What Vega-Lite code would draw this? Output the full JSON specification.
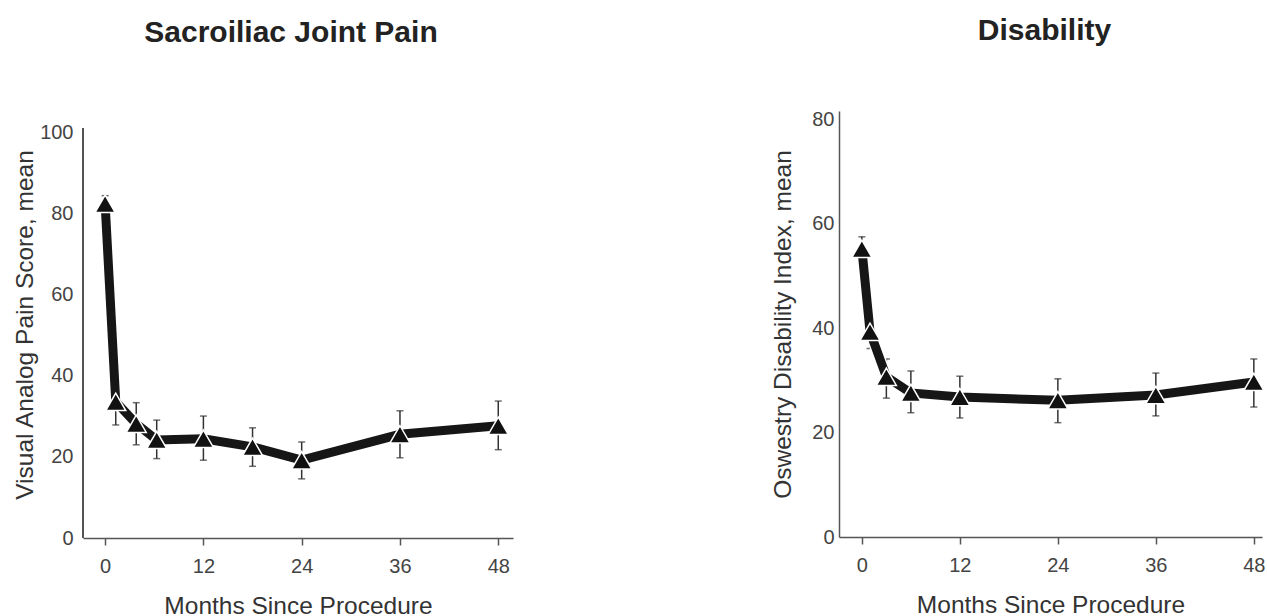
{
  "$schema": "https://vega.github.io/schema/vega-lite/v6.json",
  "padding": {"left": 12, "top": 16, "right": 0, "bottom": 0},
  "background": "white",
  "datasets": {
    "pain": [
      {"month": 0, "mean": 82.5, "lo": 80.5, "hi": 84.5},
      {"month": 1.3, "mean": 33.6, "lo": 27.9, "hi": 38.5},
      {"month": 3.8, "mean": 28.2, "lo": 23.0, "hi": 33.4},
      {"month": 6.3, "mean": 24.2, "lo": 19.6, "hi": 29.1},
      {"month": 12, "mean": 24.5, "lo": 19.2, "hi": 30.1},
      {"month": 18, "mean": 22.5, "lo": 17.7, "hi": 27.2},
      {"month": 24, "mean": 19.2, "lo": 14.6, "hi": 23.7},
      {"month": 36, "mean": 25.6, "lo": 19.8, "hi": 31.4},
      {"month": 48, "mean": 27.7, "lo": 21.8, "hi": 33.8}
    ],
    "odi": [
      {"month": 0, "mean": 55.2, "lo": 53.0, "hi": 57.5},
      {"month": 1, "mean": 39.3, "lo": 36.1, "hi": 42.5},
      {"month": 3, "mean": 30.7, "lo": 26.6, "hi": 34.1},
      {"month": 6, "mean": 27.6, "lo": 23.8, "hi": 31.8},
      {"month": 12, "mean": 26.8, "lo": 22.8, "hi": 30.8},
      {"month": 24, "mean": 26.2, "lo": 21.9, "hi": 30.3},
      {"month": 36, "mean": 27.2, "lo": 23.2, "hi": 31.4},
      {"month": 48, "mean": 29.7, "lo": 24.9, "hi": 34.1}
    ]
  },
  "config": {
    "view": {"stroke": null},
    "axis": {
      "grid": false,
      "domainColor": "#555",
      "domainWidth": 1.5,
      "tickColor": "#555",
      "tickWidth": 1.5,
      "tickSize": 7,
      "labelFont": "Liberation Sans",
      "labelFontSize": 20,
      "labelColor": "#444",
      "titleFont": "Liberation Sans",
      "titleFontSize": 24.5,
      "titleFontWeight": "normal",
      "titleColor": "#333"
    },
    "title": {
      "font": "Liberation Sans",
      "fontSize": 30,
      "fontWeight": "bold",
      "color": "#222",
      "anchor": "middle"
    }
  },
  "spacing": 247,
  "hconcat": [
    {
      "width": 430,
      "height": 427,
      "title": {"text": "Sacroiliac Joint Pain", "offset": 63, "dx": -7},
      "data": {"name": "pain"},
      "encoding": {
        "x": {"field": "month", "type": "quantitative",
          "scale": {"domain": [-2.7, 49.8], "nice": false, "zero": false},
          "axis": {"title": "Months Since Procedure", "values": [0, 12, 24, 36, 48], "labelPadding": 11, "titlePadding": 18}}
      },
      "layer": [
        {
          "mark": {"type": "rule", "color": "#555", "strokeWidth": 1.5},
          "encoding": {"x": {"datum": -2.7}, "y": {"datum": 0}, "y2": {"datum": 101.2}}
        },
        {
          "mark": {"type": "errorbar", "ticks": true, "size": 7, "thickness": 1.5, "color": "#333"},
          "encoding": {
            "y": {"field": "lo", "type": "quantitative",
              "scale": {"domain": [0, 105.4], "nice": false},
              "axis": {"title": "Visual Analog Pain Score, mean", "values": [0, 20, 40, 60, 80, 100], "ticks": false, "domain": false, "labelPadding": 10, "titlePadding": 2}},
            "y2": {"field": "hi"}
          }
        },
        {
          "mark": {"type": "line", "color": "white", "strokeWidth": 12, "strokeJoin": "miter", "strokeCap": "butt"},
          "encoding": {"y": {"field": "mean", "type": "quantitative"}}
        },
        {
          "mark": {"type": "line", "color": "#161616", "strokeWidth": 9, "strokeJoin": "miter", "strokeCap": "butt"},
          "encoding": {"y": {"field": "mean", "type": "quantitative"}}
        },
        {
          "mark": {"type": "point", "shape": "triangle-up", "filled": true, "size": 400, "color": "#111", "stroke": "white", "strokeWidth": 1.5, "opacity": 1},
          "encoding": {"y": {"field": "mean", "type": "quantitative"}}
        }
      ]
    },
    {
      "width": 423,
      "height": 426,
      "title": {"text": "Disability", "offset": 63, "dx": -6},
      "data": {"name": "odi"},
      "encoding": {
        "x": {"field": "month", "type": "quantitative",
          "scale": {"domain": [-2.8, 49], "nice": false, "zero": false},
          "axis": {"title": "Months Since Procedure", "values": [0, 12, 24, 36, 48], "labelPadding": 11, "titlePadding": 18}}
      },
      "layer": [
        {
          "mark": {"type": "errorbar", "ticks": true, "size": 7, "thickness": 1.5, "color": "#333"},
          "encoding": {
            "y": {"field": "lo", "type": "quantitative",
              "scale": {"domain": [0, 81.6], "nice": false},
              "axis": {"title": "Oswestry Disability Index, mean", "values": [0, 20, 40, 60, 80], "ticks": false, "labelPadding": 5, "titlePadding": 16}},
            "y2": {"field": "hi"}
          }
        },
        {
          "mark": {"type": "line", "color": "white", "strokeWidth": 12, "strokeJoin": "miter", "strokeCap": "butt"},
          "encoding": {"y": {"field": "mean", "type": "quantitative"}}
        },
        {
          "mark": {"type": "line", "color": "#161616", "strokeWidth": 9, "strokeJoin": "miter", "strokeCap": "butt"},
          "encoding": {"y": {"field": "mean", "type": "quantitative"}}
        },
        {
          "mark": {"type": "point", "shape": "triangle-up", "filled": true, "size": 400, "color": "#111", "stroke": "white", "strokeWidth": 1.5, "opacity": 1},
          "encoding": {"y": {"field": "mean", "type": "quantitative"}}
        }
      ]
    }
  ]
}
